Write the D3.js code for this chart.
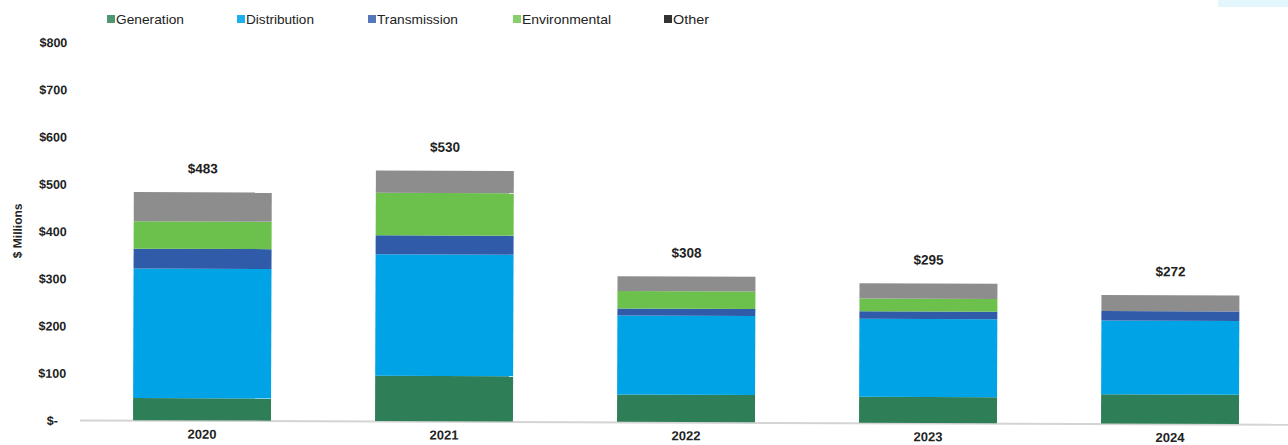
<!DOCTYPE html>
<html>
<head>
<meta charset="utf-8">
<script src="https://cdn.jsdelivr.net/npm/d3@7"></script>
<style>
  html, body { margin: 0; padding: 0; background: #fff; }
  svg { display: block; font-family: "Liberation Sans", Arial, sans-serif; }
</style>
</head>
<body>
<svg id="chart" width="1288" height="445"></svg>
<script>
// Capital spending by year, $ millions
const years = ["2020", "2021", "2022", "2023", "2024"];
const generation   = [47, 96, 58, 55, 62];
const distribution = [274, 257, 167, 165, 156];
const transmission = [42, 40, 15, 16, 20];
const environmental = [58, 90, 37, 27, 0];
const other        = [62, 47, 31, 32, 34];
const totals       = [483, 530, 308, 295, 272];
const seriesNames  = ["Generation", "Distribution", "Transmission", "Environmental", "Other"];
const yTicks       = [0, 100, 200, 300, 400, 500, 600, 700, 800];
const yTickLabels  = ["$-", "$100", "$200", "$300", "$400", "$500", "$600", "$700", "$800"];

const colors = {
  Generation: "#2e7f58",
  Distribution: "#00a4e6",
  Transmission: "#2f5ba9",
  Environmental: "#6cc04c",
  Other: "#8d8d8d"
};
const legendColors = {
  Generation: "#4f9672",
  Distribution: "#1ab0ee",
  Transmission: "#5478bd",
  Environmental: "#86cf6a",
  Other: "#333333"
};

const rows = years.map((y, i) => ({
  year: y,
  Generation: generation[i],
  Distribution: distribution[i],
  Transmission: transmission[i],
  Environmental: environmental[i],
  Other: other[i],
  total: totals[i]
}));

const svg = d3.select("#chart");

// faint cyan mark at the top-right corner of the page
svg.append("rect").attr("x", 1218).attr("y", 0).attr("width", 70).attr("height", 7)
  .attr("fill", "#e3f6fb");

const x = d3.scaleBand().domain(years).range([81, 1291])
  .paddingInner(0.43).paddingOuter(0.215);
const y = d3.scaleLinear().domain([0, 800]).range([420, 42]);

// the printed page sits very slightly askew
const g = svg.append("g").attr("transform", "rotate(0.2, 80, 420)");

// y axis tick labels
const yAxis = d3.axisLeft(y).tickValues(yTicks)
  .tickFormat((d, i) => yTickLabels[i]).tickSize(0).tickPadding(0);
const ya = g.append("g").attr("transform", "translate(66,0)").call(yAxis);
ya.select(".domain").remove();
ya.selectAll("text")
  .attr("font-family", "Liberation Sans, Arial, sans-serif")
  .attr("font-size", 12.5).attr("font-weight", "bold").attr("fill", "#222")
  .attr("dy", "0.36em")
  .attr("dx", (d) => d === 0 ? -8 : 0);

// axis title
g.append("text")
  .attr("transform", "translate(21,231) rotate(-90)")
  .attr("text-anchor", "middle")
  .attr("font-size", 12).attr("font-weight", "bold").attr("fill", "#222")
  .text("$ Millions");

// baseline
g.append("line").attr("x1", 80).attr("x2", 1288)
  .attr("y1", y(0) + 0.5).attr("y2", y(0) + 0.5)
  .attr("stroke", "#d4d4d4").attr("stroke-width", 2);

// stacked bars
const stack = d3.stack().keys(seriesNames);
const layers = stack(rows);
g.selectAll("g.layer").data(layers).join("g")
  .attr("class", "layer")
  .attr("fill", d => colors[d.key])
  .selectAll("rect").data(d => d).join("rect")
  .attr("x", d => x(d.data.year))
  .attr("width", x.bandwidth())
  .attr("y", d => y(d[1]))
  .attr("height", d => y(d[0]) - y(d[1]));

// totals above bars
g.selectAll("text.total").data(rows).join("text")
  .attr("class", "total")
  .attr("x", d => x(d.year) + x.bandwidth() / 2)
  .attr("y", d => y(d.total) - 19)
  .attr("text-anchor", "middle")
  .attr("font-size", 13.5).attr("font-weight", "bold").attr("fill", "#222")
  .text(d => "$" + d.total);

// x axis labels
const xAxis = d3.axisBottom(x).tickSize(0).tickPadding(0);
const xa = g.append("g").attr("transform", "translate(0,429)").call(xAxis);
xa.select(".domain").remove();
xa.selectAll("text")
  .attr("font-family", "Liberation Sans, Arial, sans-serif")
  .attr("font-size", 13).attr("font-weight", "bold").attr("fill", "#222")
  .attr("dy", "0.71em");

// legend
const legendX = [107, 237, 368, 513, 664];
const legend = svg.append("g").selectAll("g").data(seriesNames).join("g")
  .attr("transform", (d, i) => `translate(${legendX[i]},0)`);
legend.append("rect").attr("x", 0).attr("y", 15).attr("width", 8).attr("height", 8)
  .attr("fill", d => legendColors[d]);
legend.append("text").attr("x", 9).attr("y", 23.5)
  .attr("font-size", 13).attr("fill", "#222")
  .attr("textLength", (d, i) => [68, 68, 81, 89, 36][i])
  .attr("lengthAdjust", "spacingAndGlyphs")
  .text(d => d);
</script>
</body>
</html>
